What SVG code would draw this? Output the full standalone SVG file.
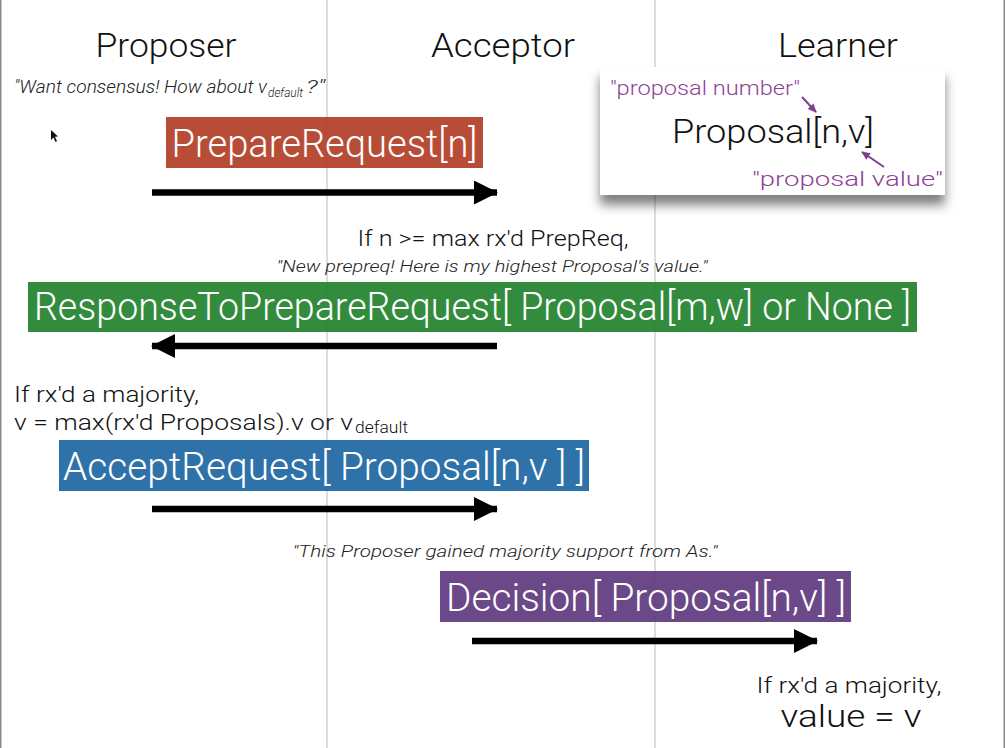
<svg xmlns="http://www.w3.org/2000/svg" width="1005" height="748" viewBox="0 0 1005 748">
<style>
.t{font-family:Roboto,"Liberation Sans",Arial,sans-serif;font-weight:300;fill:#111}
.w{font-family:Roboto,"Liberation Sans",Arial,sans-serif;font-weight:300;fill:#fff}
.i{font-family:Roboto,"Liberation Sans",Arial,sans-serif;font-weight:300;font-style:italic;fill:#222}
.p{font-family:Roboto,"Liberation Sans",Arial,sans-serif;font-weight:300;fill:#8e3f98}
.life{stroke:#d2d2d2;stroke-width:1.5}
.msg{stroke:#000;stroke-width:6.5;fill:none}
.box{fill-opacity:0.93}
</style>
<defs>
<marker id="ah" markerUnits="userSpaceOnUse" markerWidth="24" markerHeight="26" refX="23" refY="12" orient="auto">
<polygon points="0,0 24,12 0,24" fill="#000"/>
</marker>
<marker id="ph" markerUnits="userSpaceOnUse" markerWidth="10" markerHeight="10" refX="8" refY="4" orient="auto">
<polygon points="0,0 9,4 0,8" fill="#7d3f8f"/>
</marker>
<filter id="sh" x="-10%" y="-10%" width="120%" height="140%">
<feDropShadow dx="0" dy="10" stdDeviation="5.5" flood-color="#000" flood-opacity="0.5"/>
</filter>
</defs>
<rect x="0" y="0" width="1005" height="748" fill="#fff"/>
<rect x="0.75" y="-2" width="1003.5" height="752" fill="none" stroke="#8a8a8a" stroke-width="1.5"/>
<g id="lifelines">
<line class="life" x1="327" y1="0" x2="327" y2="748"/>
<line class="life" x1="655" y1="0" x2="655" y2="748"/>
</g>
<g id="proposer"><text class="t" x="166" y="57" font-size="34" text-anchor="middle" textLength="141" lengthAdjust="spacingAndGlyphs">Proposer</text></g>
<g id="acceptor"><text class="t" x="503" y="57" font-size="34" text-anchor="middle" textLength="144" lengthAdjust="spacingAndGlyphs">Acceptor</text></g>
<g id="learner"><text class="t" x="838" y="57" font-size="34" text-anchor="middle" textLength="120" lengthAdjust="spacingAndGlyphs">Learner</text></g>
<g id="note-want">
<text class="i" x="14" y="93" font-size="18" textLength="253" lengthAdjust="spacingAndGlyphs">"Want consensus! How about v</text>
<text class="i" x="268" y="97" font-size="13" textLength="35" lengthAdjust="spacingAndGlyphs">default</text>
<text class="i" x="306" y="93" font-size="18" textLength="19" lengthAdjust="spacingAndGlyphs">?"</text>
</g>
<g id="cursor"><polygon points="51,130 51,140 53.5,137.5 55.5,142 57,141.3 55,136.8 58,136.5" fill="#111"/></g>
<g id="legend">
<rect x="600" y="67" width="345" height="128" fill="#fff" filter="url(#sh)"/>
<text class="p" x="610" y="95" font-size="21" textLength="190" lengthAdjust="spacingAndGlyphs">"proposal number"</text>
<text class="t" x="773" y="143" font-size="34" text-anchor="middle" textLength="202" lengthAdjust="spacingAndGlyphs">Proposal[n,v]</text>
<text class="p" x="943" y="186" font-size="21" text-anchor="end" textLength="191" lengthAdjust="spacingAndGlyphs">"proposal value"</text>
<line x1="802" y1="97" x2="816" y2="112" stroke="#7d3f8f" stroke-width="2" marker-end="url(#ph)"/>
<line x1="884" y1="167" x2="862" y2="152" stroke="#7d3f8f" stroke-width="2" marker-end="url(#ph)"/>
</g>
<g id="prepare-request">
<rect class="box" x="166" y="117" width="317" height="51" fill="#b23f28"/>
<text class="w" x="324.5" y="157" font-size="38" text-anchor="middle" textLength="306" lengthAdjust="spacingAndGlyphs">PrepareRequest[n]</text>
</g>
<g id="note-prepreq">
<text class="t" x="493" y="246" font-size="22" text-anchor="middle" textLength="271" lengthAdjust="spacingAndGlyphs">If n &gt;= max rx'd PrepReq,</text>
<text class="i" x="492" y="272" font-size="17" text-anchor="middle" textLength="431" lengthAdjust="spacingAndGlyphs">"New prepreq! Here is my highest Proposal's value."</text>
</g>
<g id="response">
<rect class="box" x="28" y="282" width="889" height="50" fill="#23832f"/>
<text class="w" x="472.5" y="320" font-size="38" text-anchor="middle" textLength="877" lengthAdjust="spacingAndGlyphs">ResponseToPrepareRequest[ Proposal[m,w] or None ]</text>
</g>
<g id="note-majority">
<text class="t" x="14" y="402" font-size="22" textLength="185" lengthAdjust="spacingAndGlyphs">If rx'd a majority,</text>
<text class="t" x="14" y="430" font-size="22" textLength="339" lengthAdjust="spacingAndGlyphs">v = max(rx'd Proposals).v or v</text>
<text class="t" x="355" y="433" font-size="16" textLength="53" lengthAdjust="spacingAndGlyphs">default</text>
</g>
<g id="accept-request">
<rect class="box" x="59" y="440" width="530" height="51" fill="#1f66a3"/>
<text class="w" x="324" y="480" font-size="38" text-anchor="middle" textLength="522" lengthAdjust="spacingAndGlyphs">AcceptRequest[ Proposal[n,v ] ]</text>
</g>
<g id="note-gained">
<text class="i" x="505" y="557" font-size="17" text-anchor="middle" textLength="425" lengthAdjust="spacingAndGlyphs">"This Proposer gained majority support from As."</text>
</g>
<g id="decision">
<rect class="box" x="440" y="571" width="411" height="51" fill="#603a7e"/>
<text class="w" x="646" y="611" font-size="38" text-anchor="middle" textLength="400" lengthAdjust="spacingAndGlyphs">Decision[ Proposal[n,v] ]</text>
</g>
<g id="note-value">
<text class="t" x="849" y="693" font-size="22" text-anchor="middle" textLength="185" lengthAdjust="spacingAndGlyphs">If rx'd a majority,</text>
<text class="t" x="851" y="727" font-size="32" text-anchor="middle" textLength="141" lengthAdjust="spacingAndGlyphs">value = v</text>
</g>
<g id="connectors">
<line class="msg" x1="152" y1="192.5" x2="497" y2="192.5" marker-end="url(#ah)"/>
<line class="msg" x1="497" y1="346" x2="152" y2="346" marker-end="url(#ah)"/>
<line class="msg" x1="152" y1="509" x2="497" y2="509" marker-end="url(#ah)"/>
<line class="msg" x1="472" y1="641" x2="817" y2="641" marker-end="url(#ah)"/>
</g>
</svg>
